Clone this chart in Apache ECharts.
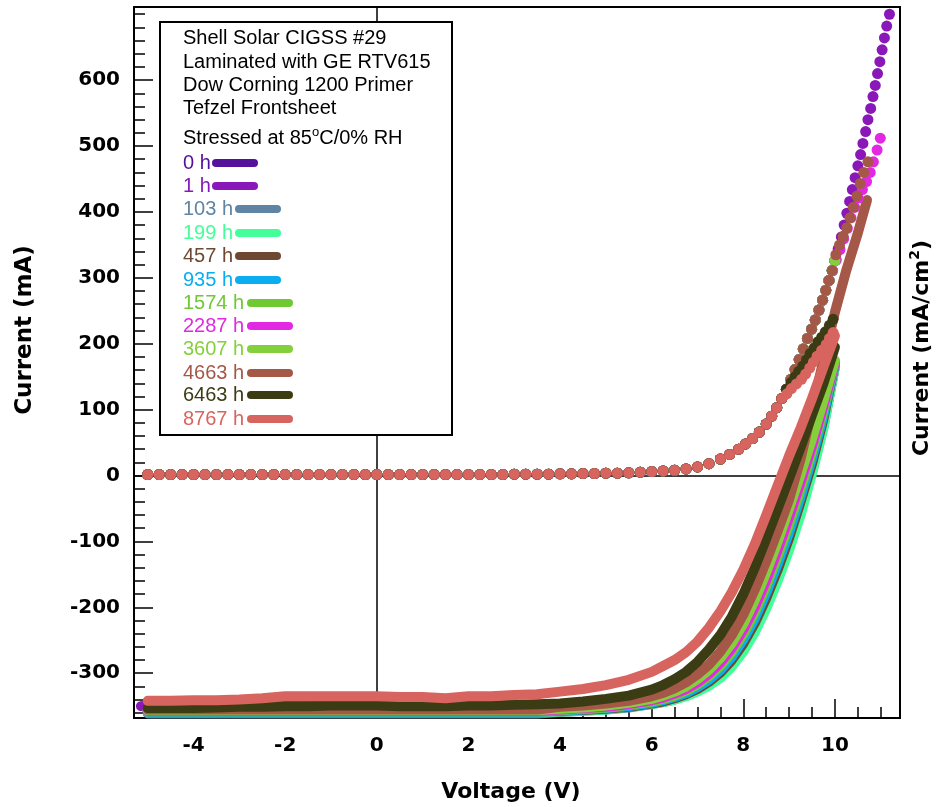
<!DOCTYPE html>
<html><head><meta charset="utf-8">
<script src="https://cdn.jsdelivr.net/npm/echarts@6/dist/echarts.min.js"></script>
<style>html,body{margin:0;padding:0;background:#fff}#c{width:939px;height:807px}</style>
</head><body><div id="c"></div>
<script>
// ---------- DATA ----------
const seriesNames = ['0 h','1 h','103 h','199 h','457 h','935 h','1574 h','2287 h','3607 h','4663 h','6463 h','8767 h'];
const seriesColors = ['#55109c','#8a18b8','#5f84a4','#44ff99','#6e4830','#0aaef0','#70c832','#e228e2','#84d03c','#a55848','#3c3c14','#d86460'];

const xMajorTicks = [-4,-2,0,2,4,6,8,10];
const xMinorTicks = [-5,-4.5,-4,-3.5,-3,-2.5,-2,-1.5,-1,-0.5,0,0.5,1,1.5,2,2.5,3,3.5,4,4.5,5,5.5,6,6.5,7,7.5,8,8.5,9,9.5,10,10.5,11];
const yMajorTicks = [-300,-200,-100,0,100,200,300,400,500,600];
const yMinorTicks = [-360,-340,-320,-300,-280,-260,-240,-220,-200,-180,-160,-140,-120,-100,-80,-60,-40,-20,0,20,40,60,80,100,120,140,160,180,200,220,240,260,280,300,320,340,360,380,400,420,440,460,480,500,520,540,560,580,600,620,640,660,680,700];

const headerLines = ['Shell Solar CIGSS #29','Laminated with GE RTV615','Dow Corning 1200 Primer','Tefzel Frontsheet'];

// Illuminated (light) I-V curves: shared voltage grid, one current array per exposure
const lightV = [-5.15,-5,-4.5,-4,-3.5,-3,-2.5,-2,-1.5,-1,-0.5,0,0.5,1,1.5,2,2.5,3,3.5,4,4.5,5,5.5,6,6.25,6.5,6.75,7,7.25,7.5,7.75,8,8.25,8.5,8.75,9,9.25,9.5,9.75,10,10.25,10.5,10.7];
const light_0h    = [null,-358,-358,-358,-358,-358,-358,-357,-357,-357,-357,-357,-357,-357,-357,-357,-357,-357,-357,-357,-356,-354,-351,-346,-343,-339,-334,-327,-317,-304,-286,-263,-233,-197,-155,-107,-53,6,75,166,null,null,null];
const light_1h    = [-350,-349,-348,-347,-347,-346,-346,-345,-345,-344,-344,-345,-347,-348,-349,-350,-351,-352,-353,-355,-355,-353,-350,-345,-342,-338,-333,-326,-316,-303,-285,-262,-232,-196,-154,-106,-52,7,76,167,null,null,null];
const light_103h  = [null,-361,-361,-361,-361,-361,-361,-361,-361,-361,-361,-361,-361,-361,-361,-361,-361,-361,-361,-359,-357,-355,-352,-347,-344,-340,-334,-326,-316,-302,-284,-260,-229,-192,-150,-102,-48,10,80,168,null,null,null];
const light_199h  = [null,-359,-359,-359,-359,-359,-359,-359,-359,-359,-359,-359,-359,-359,-359,-359,-359,-359,-359,-358,-357,-355,-351,-347,-344,-340,-335,-328,-319,-307,-290,-267,-238,-202,-160,-113,-60,3,72,165,null,null,null];
const light_457h  = [null,-358,-358,-358,-358,-358,-358,-358,-358,-358,-358,-358,-358,-358,-358,-358,-358,-358,-358,-357,-356,-354,-351,-346,-343,-338,-332,-324,-313,-299,-280,-255,-224,-186,-143,-95,-40,18,86,170,null,null,null];
const light_935h  = [null,-358,-358,-358,-358,-358,-358,-358,-358,-358,-358,-358,-358,-358,-358,-358,-358,-358,-358,-357,-355,-353,-350,-345,-341,-336,-330,-321,-310,-295,-275,-249,-217,-178,-134,-86,-32,26,92,170,null,null,null];
const light_1574h = [null,-357,-357,-357,-357,-357,-357,-357,-357,-357,-357,-357,-357,-357,-357,-357,-357,-357,-357,-356,-354,-352,-348,-343,-339,-334,-327,-317,-305,-289,-268,-241,-208,-168,-123,-74,-21,36,100,172,null,null,null];
const light_2287h = [null,-357,-357,-357,-357,-357,-357,-357,-357,-357,-357,-357,-357,-357,-357,-357,-357,-357,-357,-355,-353,-351,-347,-341,-337,-331,-324,-314,-301,-284,-262,-234,-200,-159,-113,-63,-10,45,106,172,null,null,null];
const light_3607h = [null,-356,-356,-356,-356,-356,-356,-356,-356,-356,-356,-356,-356,-356,-356,-356,-356,-356,-356,-354,-352,-349,-345,-339,-334,-328,-320,-309,-295,-277,-254,-225,-189,-147,-100,-50,2,56,114,175,null,null,null];
const light_4663h = [null,-355,-355,-355,-355,-355,-355,-355,-355,-355,-355,-355,-355,-355,-355,-355,-355,-355,-355,-351,-349,-346,-342,-335,-330,-323,-314,-302,-287,-267,-242,-211,-173,-130,-84,-36,25,100,175,248,312,368,418];
const light_6463h = [null,-353,-353,-353,-352,-351,-351,-350,-350,-349,-349,-349,-350,-350,-350,-349,-349,-348,-347,-346,-343,-339,-334,-325,-318,-309,-298,-283,-264,-242,-214,-180,-140,-96,-50,-4,43,92,140,195,null,null,null];
const light_8767h = [null,-342,-342,-341,-341,-340,-338,-335,-335,-335,-335,-335,-336,-336,-338,-335,-335,-333,-332,-328,-324,-318,-310,-298,-289,-280,-268,-252,-231,-206,-177,-143,-104,-60,-15,30,72,117,165,212,null,null,null];

// Dark I-V curves (dots): shared flat part + rising part
const darkFlatV = [-5,-4.75,-4.5,-4.25,-4,-3.75,-3.5,-3.25,-3,-2.75,-2.5,-2.25,-2,-1.75,-1.5,-1.25,-1,-0.75,-0.5,-0.25,0,0.25,0.5,0.75,1,1.25,1.5,1.75,2,2.25,2.5,2.75,3,3.25,3.5,3.75,4,4.25,4.5,4.75,5,5.25,5.5];
const darkFlatI = [1.5,1.5,1.5,1.5,1.5,1.5,1.5,1.5,1.5,1.5,1.5,1.5,1.5,1.5,1.5,1.5,1.5,1.5,1.5,1.5,1.5,1.5,1.5,1.5,1.5,1.5,1.5,1.5,1.5,1.5,1.5,1.5,2,2,2,2,2.5,2.5,3,3,3.5,3.5,4];
const riseCommonV = [5.75,6,6.25,6.5,6.75,7,7.25,7.5,7.7,7.9,8.05,8.2,8.35,8.5,8.62,8.73,8.84,8.94,9.04,9.13,9.22,9.31,9.4,9.49,9.57,9.65,9.73,9.8,9.87,9.94,10.0];
const riseCommonI = [5,6,7,8,10,13,18,25,32,40,48,56,66,78,90,103,117,131,146,161,176,192,208,222,236,251,266,281,296,311,326];
const ext1hV = [10.07,10.14,10.2,10.26,10.32,10.38,10.44,10.5,10.56,10.61,10.67,10.72,10.78,10.83,10.88,10.93,10.98,11.03,11.08,11.13,11.19];
const ext1hI = [344,362,380,398,416,434,452,470,487,504,522,540,557,575,592,610,628,646,664,682,700];
const ext2287V = [9.95,10.03,10.11,10.19,10.27,10.35,10.43,10.51,10.6,10.69,10.77,10.84,10.92,10.99];
const ext2287I = [311,327,343,359,375,391,407,421,434,446,460,476,494,512];
const ext4663V = [10.02,10.1,10.18,10.26,10.33,10.4,10.48,10.55,10.63,10.72];
const ext4663I = [335,350,363,376,391,407,424,443,460,476];
const ext6463V = [9.04,9.13,9.21,9.3,9.38,9.46,9.55,9.63,9.71,9.79,9.88,9.96];
const ext6463I = [141,150,158,166,176,185,194,203,210,218,228,237];
const ext8767V = [8.95,9.05,9.16,9.27,9.36,9.45,9.53,9.61,9.71,9.81,9.88,9.96];
const ext8767I = [124,132,139,146,154,163,172,181,190,199,208,217];

// ---------- BUILD ----------
const lightCurves = [light_0h,light_1h,light_103h,light_199h,light_457h,light_935h,light_1574h,light_2287h,light_3607h,light_4663h,light_6463h,light_8767h];
function pairs(vs, is){ const out=[]; for(let k=0;k<vs.length;k++){ if(is[k]!==null) out.push([vs[k], is[k]]); } return out; }
function dark(nCommon, extV, extI){
  return pairs(darkFlatV.concat(riseCommonV.slice(0,nCommon), extV), darkFlatI.concat(riseCommonI.slice(0,nCommon), extI));
}
const darkCurves = [
  dark(31,[],[]), dark(31,ext1hV,ext1hI), dark(31,[],[]), dark(31,[],[]), dark(31,[],[]), dark(31,[],[]),
  dark(31,[],[]), dark(29,ext2287V,ext2287I), dark(31,[],[]), dark(30,ext4663V,ext4663I),
  dark(18,ext6463V,ext6463I), dark(17,ext8767V,ext8767I)
];

const series = [];
lightCurves.forEach((arr, k) => {
  const s = {
    name: seriesNames[k] + ' light', type: 'line', data: pairs(lightV, arr),
    showSymbol: false, symbol: 'none', silent: true, z: 2,
    lineStyle: { color: seriesColors[k], width: 10, cap: 'round', join: 'round' }
  };
  if (k === 0) {
    s.markLine = { silent: true, symbol: 'none', z: 1, animation: false,
      label: { show: false }, lineStyle: { color: '#000', width: 1.5, type: 'solid' },
      data: [{ xAxis: 0 }, { yAxis: 0 }] };
  }
  series.push(s);
});
darkCurves.forEach((d, k) => {
  series.push({ name: seriesNames[k] + ' dark', type: 'scatter', data: d, symbol: 'circle', symbolSize: 11,
    silent: true, z: 3, itemStyle: { color: seriesColors[k], opacity: 1 } });
});

const boldFont = '"DejaVu Sans"';
const legFont = '"Liberation Sans", Arial, sans-serif';

const graphics = [];
graphics.push({ type: 'rect', z: 100, shape: { x: 160, y: 22, width: 292, height: 413 },
  style: { fill: '#fff', stroke: '#000', lineWidth: 2 } });
const headerY = [38, 62, 85, 108];
headerLines.forEach((t, k) => graphics.push({ type: 'text', z: 101, x: 183, y: headerY[k],
  style: { text: t, fill: '#000', font: '20px ' + legFont, verticalAlign: 'middle', align: 'left' } }));
graphics.push({ type: 'text', z: 101, x: 183, y: 138, style: {
  text: '{a|Stressed at 85}{s|o}{a|C/0% RH}', verticalAlign: 'middle', align: 'left',
  rich: { a: { fontSize: 20, fontFamily: legFont, lineHeight: 24, fill: '#000', color: '#000' },
          s: { fontSize: 13, fontFamily: legFont, lineHeight: 14, verticalAlign: 'top', color: '#000', fill: '#000' } } } });
const legLineX = [212,212,235,235,235,235,247,247,247,247,247,247];
const legY = [163,186,209,233,256,280,303,326,349,373,395,419];
seriesNames.forEach((n, k) => {
  graphics.push({ type: 'text', z: 101, x: 183, y: legY[k],
    style: { text: n, fill: seriesColors[k], font: '20px ' + legFont, verticalAlign: 'middle', align: 'left' } });
  graphics.push({ type: 'line', z: 101, shape: { x1: legLineX[k] + 4, y1: legY[k], x2: legLineX[k] + 42, y2: legY[k] },
    style: { stroke: seriesColors[k], lineWidth: 8, lineCap: 'round' } });
});
graphics.push({ type: 'text', z: 101, x: 25, y: 330, rotation: Math.PI / 2,
  style: { text: 'Current (mA)', fill: '#000', font: 'bold 23px ' + boldFont, align: 'center', verticalAlign: 'middle' } });
graphics.push({ type: 'text', z: 101, x: 511, y: 792,
  style: { text: 'Voltage (V)', fill: '#000', font: 'bold 22px ' + boldFont, align: 'center', verticalAlign: 'middle' } });
graphics.push({ type: 'text', z: 101, x: 922, y: 348, rotation: Math.PI / 2,
  style: { text: '{a|Current (mA/cm}{s|2}{a|)}', align: 'center', verticalAlign: 'middle',
    rich: { a: { fontSize: 22, fontWeight: 'bold', fontFamily: boldFont, lineHeight: 28, color: '#000' },
            s: { fontSize: 14, fontWeight: 'bold', fontFamily: boldFont, lineHeight: 16, verticalAlign: 'top', color: '#000' } } } });

const axisLbl = { color: '#000', fontFamily: boldFont, fontWeight: 'bold', fontSize: 20 };
const option = {
  animation: false,
  backgroundColor: '#fff',
  grid: { left: 134, right: 39, top: 7, bottom: 89, show: true, borderColor: '#000', borderWidth: 2, containLabel: false },
  xAxis: [
    { type: 'value', position: 'bottom', min: -5.3, max: 11.42,
      axisLine: { show: true, onZero: false, lineStyle: { color: '#000', width: 2 } },
      axisTick: { show: true, inside: true, length: 19, customValues: xMajorTicks, lineStyle: { color: '#000', width: 1.5 } },
      axisLabel: Object.assign({ customValues: xMajorTicks, margin: 18 }, axisLbl),
      splitLine: { show: false } },
    { type: 'value', position: 'bottom', min: -5.3, max: 11.42,
      axisLine: { show: false, onZero: false },
      axisTick: { show: true, inside: true, length: 11, customValues: xMinorTicks, lineStyle: { color: '#000', width: 1.5 } },
      axisLabel: { show: false }, splitLine: { show: false } }
  ],
  yAxis: [
    { type: 'value', position: 'left', min: -368, max: 711,
      axisLine: { show: true, onZero: false, lineStyle: { color: '#000', width: 2 } },
      axisTick: { show: true, inside: true, length: 19, customValues: yMajorTicks, lineStyle: { color: '#000', width: 1.5 } },
      axisLabel: Object.assign({ customValues: yMajorTicks, margin: 14 }, axisLbl),
      splitLine: { show: false } },
    { type: 'value', position: 'left', min: -368, max: 711,
      axisLine: { show: false, onZero: false },
      axisTick: { show: true, inside: true, length: 11, customValues: yMinorTicks, lineStyle: { color: '#000', width: 1.5 } },
      axisLabel: { show: false }, splitLine: { show: false } }
  ],
  series: series,
  graphic: { elements: graphics }
};
const chart = echarts.init(document.getElementById('c'));
chart.setOption(option);
</script>
</body></html>
